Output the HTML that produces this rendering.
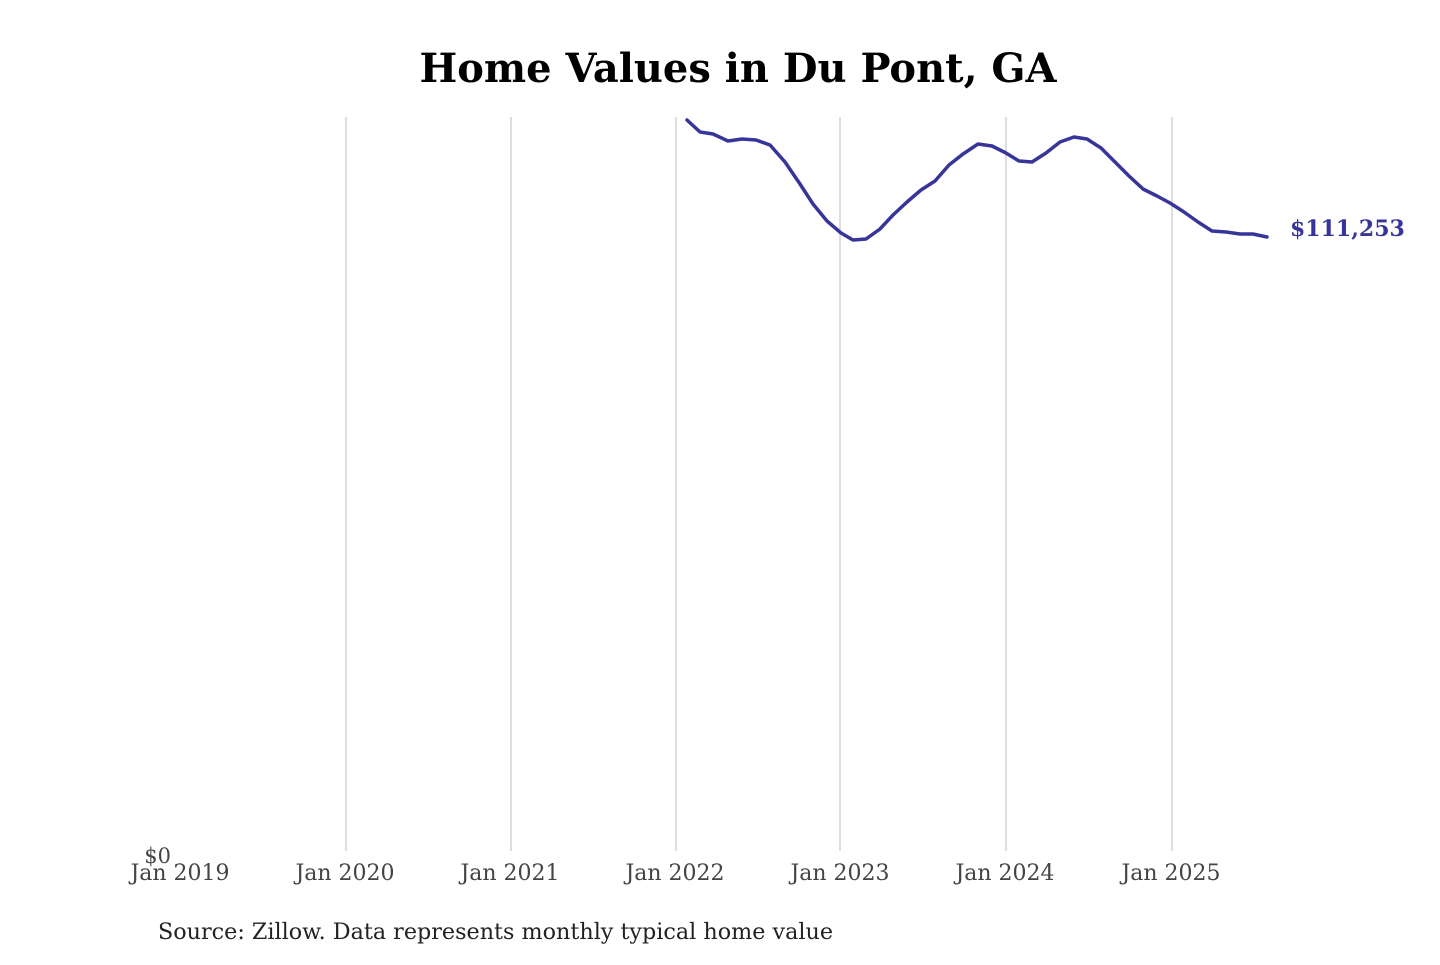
<!DOCTYPE html>
<html><head><meta charset="utf-8"><style>html,body{margin:0;background:#fff}</style></head>
<body>
<svg width="1440" height="960" viewBox="0 0 1440 960" xmlns="http://www.w3.org/2000/svg" font-family="'DejaVu Serif','Liberation Serif',serif">
<rect width="1440" height="960" fill="#fff"/>
<text x="738" y="82" text-anchor="middle" font-size="40" font-weight="bold" fill="#000" textLength="637" lengthAdjust="spacingAndGlyphs">Home Values in Du Pont, GA</text>
<g stroke="#c8c8c8" stroke-width="1.2">
<line x1="346" y1="117" x2="346" y2="851"/><line x1="511" y1="117" x2="511" y2="851"/>
<line x1="676" y1="117" x2="676" y2="851"/><line x1="840" y1="117" x2="840" y2="851"/>
<line x1="1006" y1="117" x2="1006" y2="851"/><line x1="1172" y1="117" x2="1172" y2="851"/>
</g>
<g font-size="22" fill="#444" text-anchor="middle">
<text x="180" y="880">Jan 2019</text><text x="345" y="880">Jan 2020</text><text x="510" y="880">Jan 2021</text>
<text x="675" y="880">Jan 2022</text><text x="840" y="880">Jan 2023</text><text x="1005" y="880">Jan 2024</text><text x="1171" y="880">Jan 2025</text>
</g>
<text x="171" y="863" font-size="21" fill="#444" text-anchor="end">$0</text>
<polyline fill="none" stroke="#38359a" stroke-width="3.5" stroke-linejoin="round" stroke-linecap="round" points="687,120 700,132 713,134 728,141 742,139 756,140 770,145 785,162 800,184 813,204 827,221 841,233 853,240 866,239 880,229 893,215 907,202 921,190 935,181 949,165 963,154 978,144 992,146 1006,153 1019,161 1032,162 1046,153 1060,142 1074,137 1087,139 1101,148 1115,162 1129,176 1143,189 1157,196 1170,203 1184,212 1198,222 1212,231 1226,232 1240,234 1253,234 1267,237"/>
<text x="1290" y="236" font-size="22" font-weight="bold" fill="#38359a">$111,253</text>
<text x="158" y="939" font-size="22" fill="#222" textLength="675" lengthAdjust="spacingAndGlyphs">Source: Zillow. Data represents monthly typical home value</text>
</svg>
</body></html>
